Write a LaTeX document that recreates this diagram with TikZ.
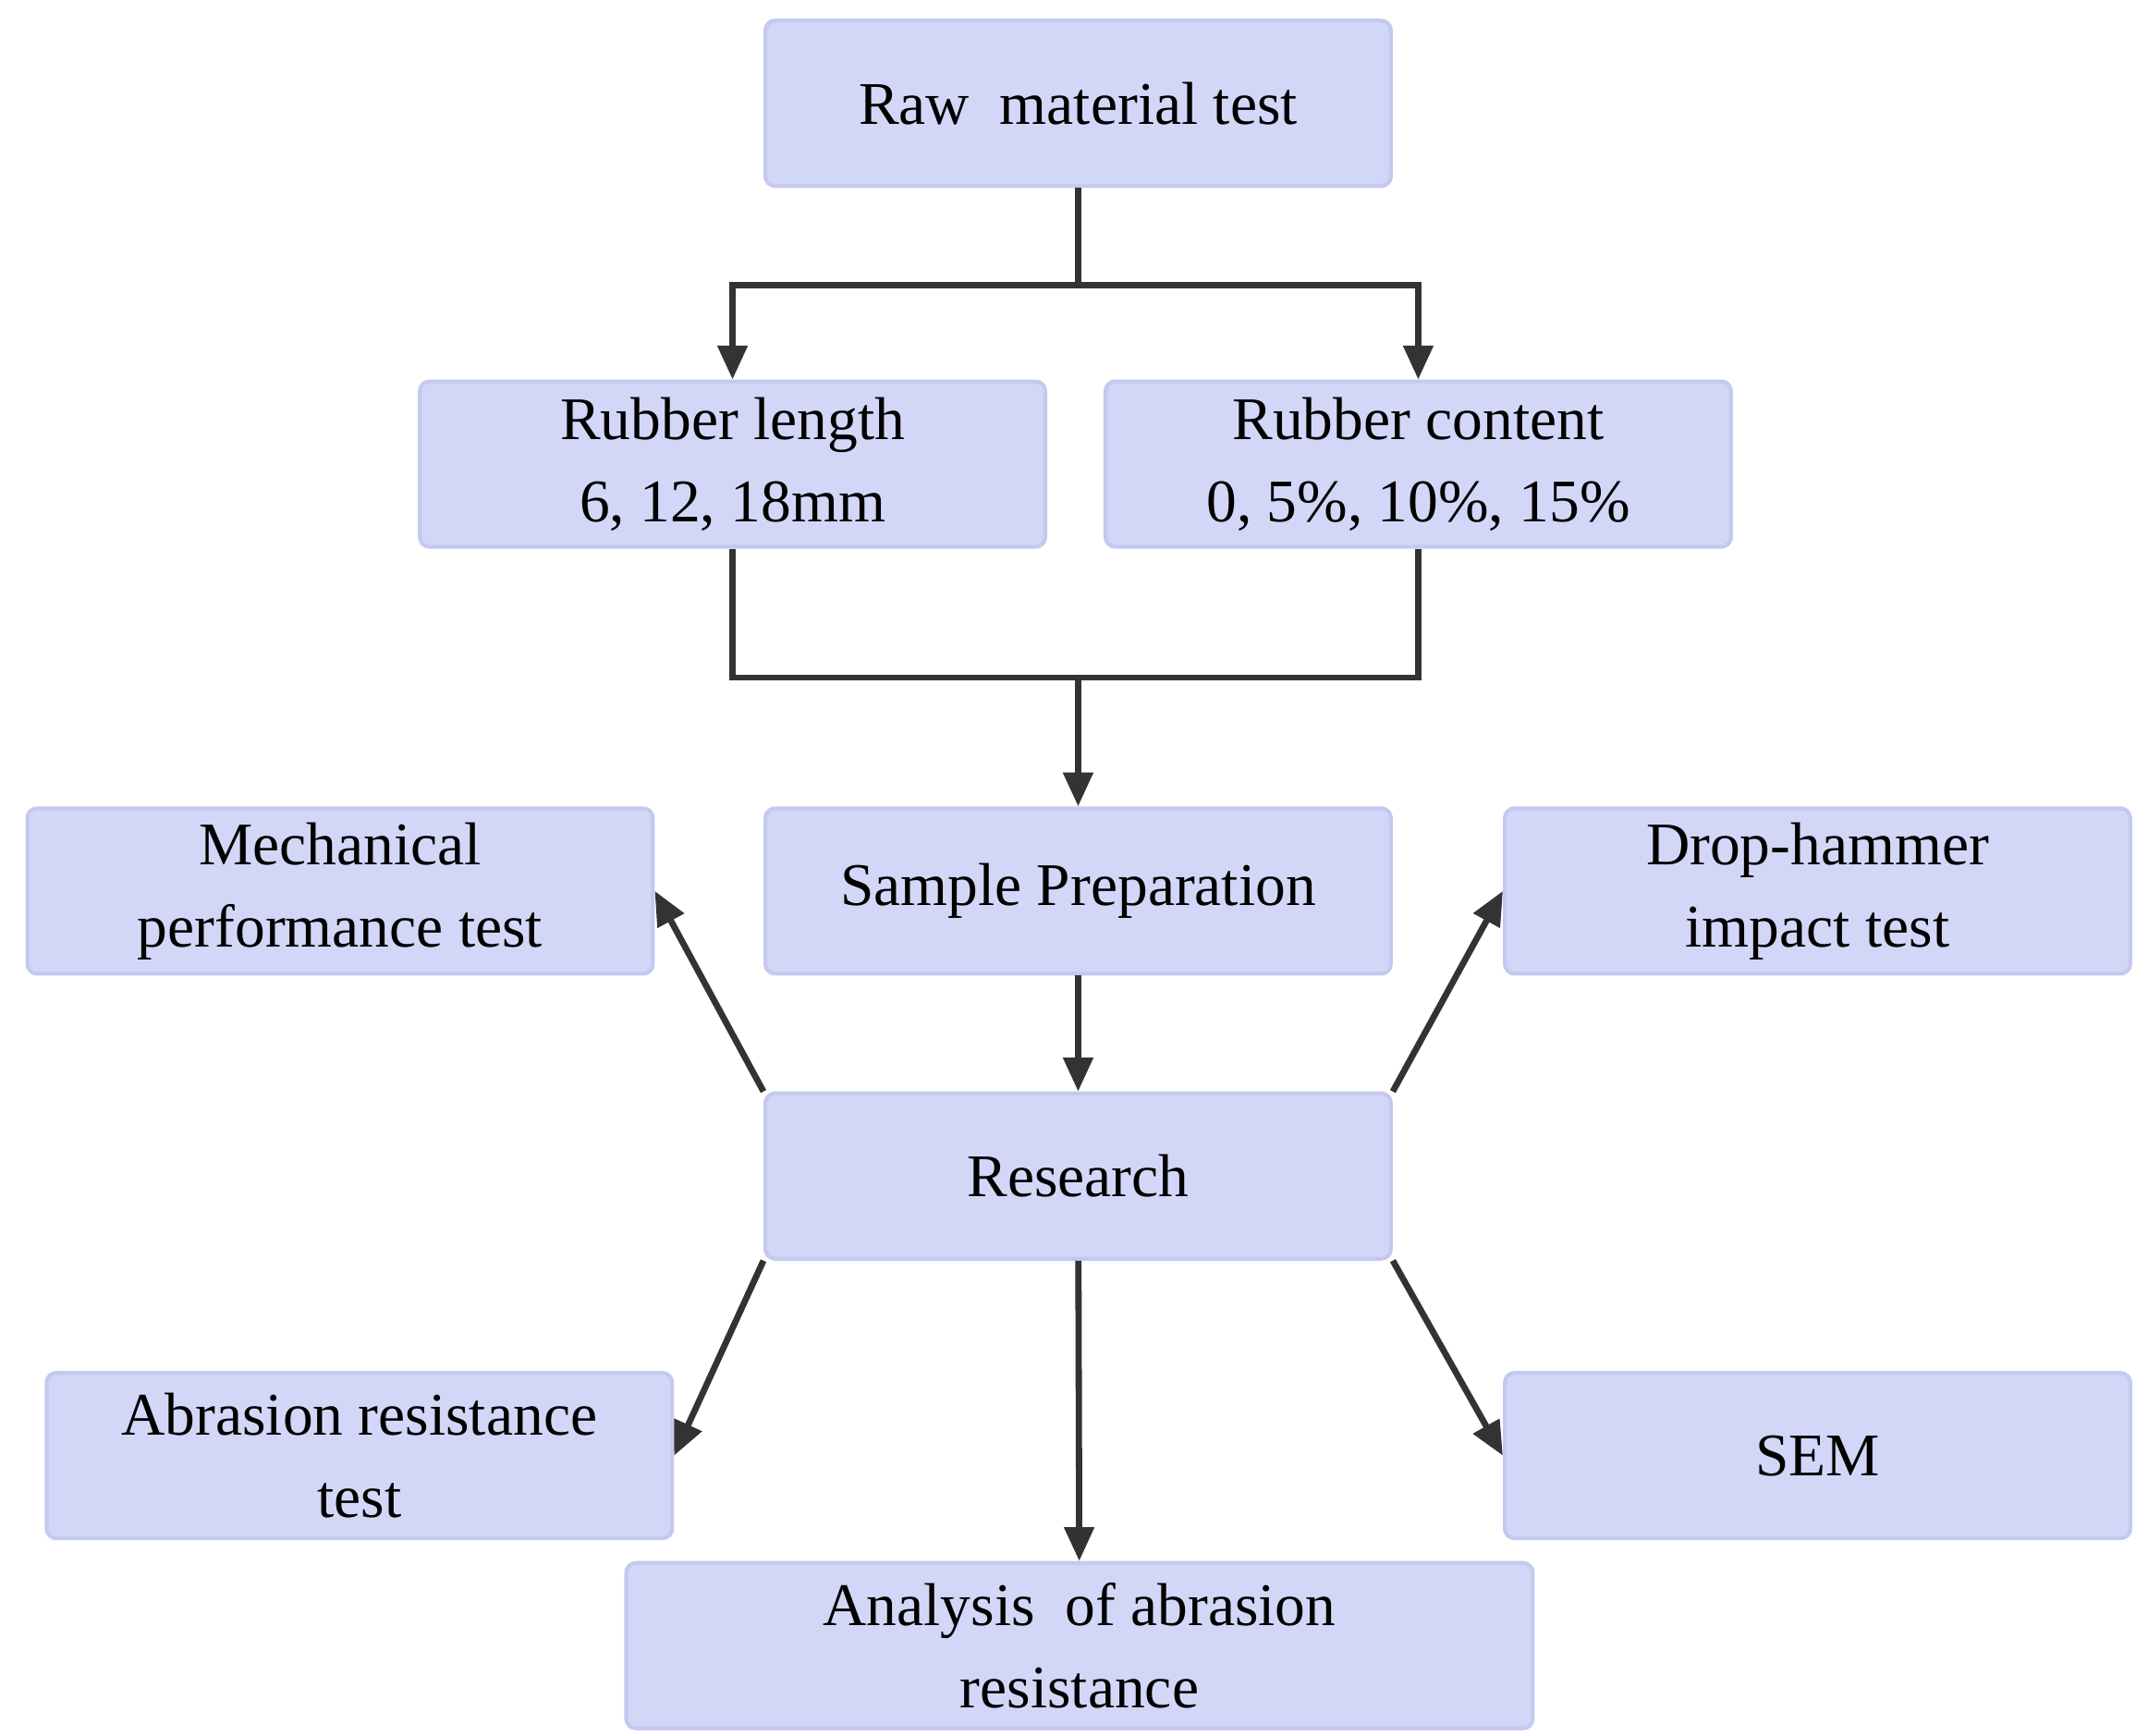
\documentclass[tikz,border=0pt]{standalone}
\usepackage{fontspec}
\setmainfont{Liberation Serif}
\usetikzlibrary{arrows.meta}
\definecolor{boxfill}{HTML}{D3D7F7}
\definecolor{boxline}{HTML}{C4C9F0}
\definecolor{arr}{HTML}{333333}
\begin{document}
\begin{tikzpicture}[x=0.01cm,y=-0.01cm,
  box/.style={draw=boxline,line width=0.8pt,fill=boxfill,rounded corners=2pt,minimum width=4.54cm,minimum height=1.2cm,align=center,font=\fontsize{12.5}{17}\selectfont,inner sep=0pt},
  con/.style={draw=arr,line width=1.3pt},
  ar/.style={con,-{Triangle[length=7pt,width=6pt]}}]
\useasboundingbox (0,0) rectangle (1560,1260);
\node[box] (raw) at (783,75) {Raw\ \ material test};
\node[box] (len) at (532,337) {Rubber length\\6, 12, 18mm};
\node[box] (cont) at (1030,337) {Rubber content\\0, 5\%, 10\%, 15\%};
\node[box] (samp) at (783,647) {Sample Preparation};
\node[box] (mech) at (247,647) {Mechanical\\performance test};
\node[box] (drop) at (1320,647) {Drop-hammer\\impact test};
\node[box] (res) at (783,854) {Research};
\node[box] (abr) at (261,1057) {Abrasion resistance\\test};
\node[box] (sem) at (1320,1057) {SEM};
\node[box,minimum width=6.58cm] (ana) at (784,1195) {Analysis\ \ of abrasion\\resistance};
\coordinate (j1) at (783,207);
\coordinate (j2) at (783,492);
\draw[con] (raw.south) -- (j1);
\draw[ar] (j1) -| (len.north);
\draw[ar] (j1) -| (cont.north);
\draw[con] (len.south) |- (j2);
\draw[con] (cont.south) |- (j2);
\draw[ar] (j2) -- (samp.north);
\draw[ar] (samp) -- (res);
\draw[ar] (res.north west) -- (mech.east);
\draw[ar] (res.north east) -- (drop.west);
\draw[ar] (res.south west) -- (abr.east);
\draw[ar] (res.south east) -- (sem.west);
\draw[ar] (res) -- (ana);
\end{tikzpicture}
\end{document}
